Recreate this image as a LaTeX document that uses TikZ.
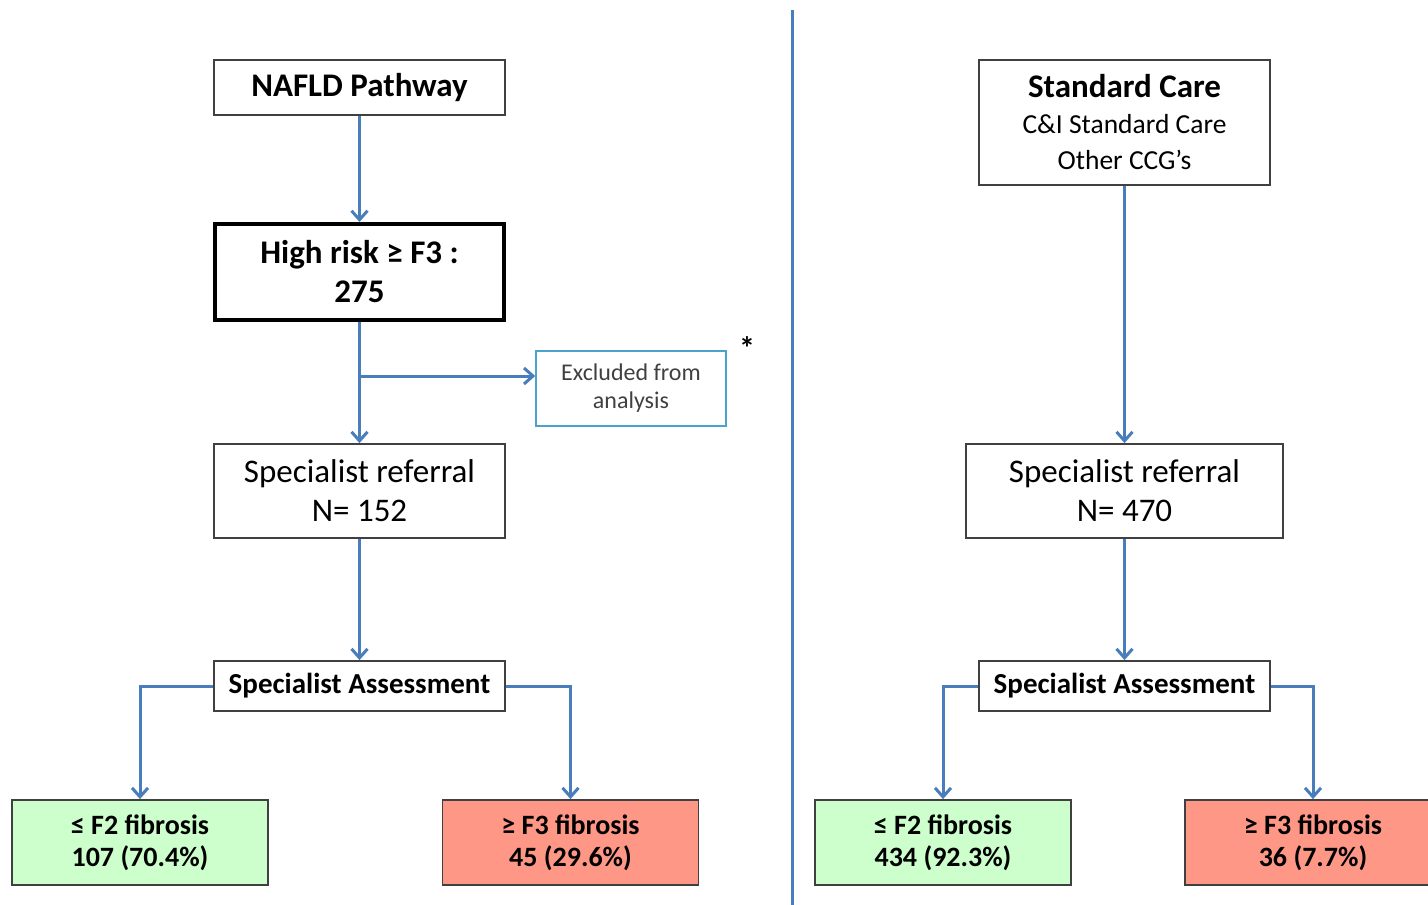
\documentclass[tikz,border=0pt]{standalone}
\usepackage{fontspec}
\setmainfont{Carlito}
\usetikzlibrary{arrows,arrows.meta,positioning,calc}
\definecolor{lineblue}{HTML}{4A7EBB}
\definecolor{exclblue}{HTML}{4BA3CB}
\definecolor{lowgreen}{HTML}{CCFFCC}
\definecolor{highred}{HTML}{FF9787}

\begin{document}
\begin{tikzpicture}
[x=1pt,y=-1pt,
every node/.style={align=center,inner sep=0pt},
stage/.style={draw=black!75,line width=1.8pt,fill=white},
heavy/.style={draw=black,line width=4pt},
result/.style={stage,minimum width=256pt,minimum height=85pt,font=\fontsize{28}{32}\selectfont\bfseries},
flow/.style={draw=lineblue,line width=3pt,-{Straight Barb[length=9pt,width=16pt]}}]
\useasboundingbox (0,0) rectangle (1428,905);

% NAFLD side
\node[stage,minimum width=291pt,minimum height=55pt,font=\fontsize{33}{39}\selectfont\bfseries] (nafld) at (359.5,87.5) {NAFLD Pathway};
\node[heavy,minimum width=289pt,minimum height=96pt,font=\fontsize{33}{39}\selectfont\bfseries] (risk) at (359.5,272) {High risk ≥ F3 :\\275};
\node[draw=exclblue,line width=1.5pt,minimum width=190pt,minimum height=75pt,text=black!75,font=\fontsize{24}{28}\selectfont] (excl) at (631,388.5) {Excluded from\\analysis};
\node[font=\fontsize{32}{32}\selectfont\bfseries] (star) at (747,348) {*};
\node[stage,minimum width=291pt,minimum height=94pt,font=\fontsize{33}{39}\selectfont] (referL) at (359.5,491) {Specialist referral\\N= 152};
\node[stage,minimum width=291pt,minimum height=50pt,font=\fontsize{29}{34}\selectfont\bfseries] (assessL) at (359.5,686) {Specialist Assessment};
\node[result,fill=lowgreen] (lowL) at (140,842.5) {≤ F2 fibrosis\\107 (70.4\%)};
\node[result,fill=highred] (highL) at (570.5,842.5) {≥ F3 fibrosis\\45 (29.6\%)};

\coordinate (split) at (359.5,376);
\draw[flow] (nafld) -- (risk);
\draw[flow] (risk) -- (referL);
\draw[flow] (split) -- (split -| excl.west);
\draw[flow] (referL) -- (assessL);
\draw[flow] (assessL.west) -| (lowL.north);
\draw[flow] (assessL.east) -| (highL.north);

% divider
\draw[lineblue,line width=3pt] (792,10) -- (792,905);

% standard care side
\node[stage,minimum width=291pt,minimum height=125pt,font=\fontsize{27.5}{36}\selectfont] (std) at (1124.5,122.5) {{\fontsize{33}{36}\selectfont\bfseries Standard Care}\\
  C\&I Standard Care\\Other CCG’s};
\node[stage,minimum width=317pt,minimum height=94pt,font=\fontsize{33}{39}\selectfont] (referR) at (1124.5,491) {Specialist referral\\N= 470};
\node[stage,minimum width=291pt,minimum height=50pt,font=\fontsize{29}{34}\selectfont\bfseries] (assessR) at (1124.5,686) {Specialist Assessment};
\node[result,fill=lowgreen] (lowR) at (943,842.5) {≤ F2 fibrosis\\434 (92.3\%)};
\node[result,fill=highred] (highR) at (1313,842.5) {≥ F3 fibrosis\\36 (7.7\%)};

\draw[flow] (std) -- (referR);
\draw[flow] (referR) -- (assessR);
\draw[flow] (assessR.west) -| (lowR.north);
\draw[flow] (assessR.east) -| (highR.north);
\end{tikzpicture}
\end{document}
